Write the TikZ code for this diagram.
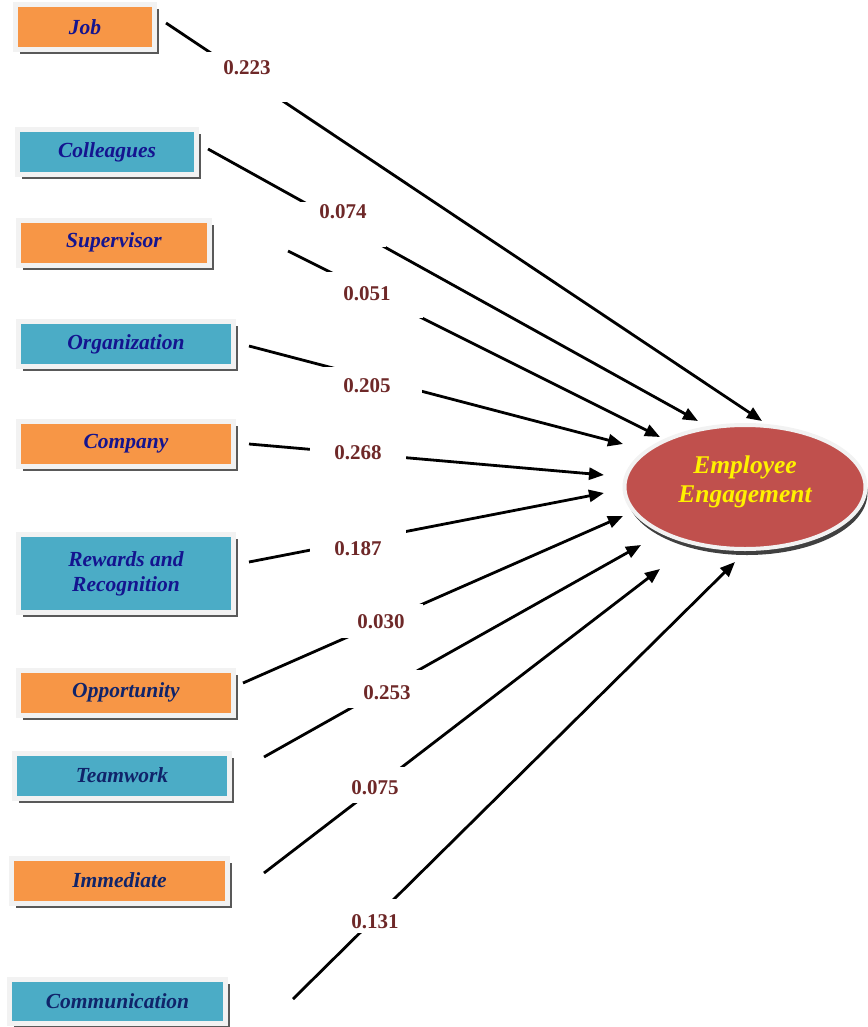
\documentclass[tikz,border=0pt]{standalone}
\usepackage{fontspec}
\setmainfont{Liberation Serif}
\usepackage{xcolor}
\usepackage{tikz}
\usetikzlibrary{calc}
\usetikzlibrary{arrows.meta}
\usetikzlibrary{shapes}
\usetikzlibrary{shapes.geometric}
\usetikzlibrary{shadows}
\definecolor{boxorange}{HTML}{F79646}
\definecolor{boxblue}{HTML}{4BACC6}
\definecolor{eered}{HTML}{C0504D}
\definecolor{rim}{HTML}{F2F2F2}
\definecolor{txtblue}{HTML}{14148F}
\definecolor{txtnavy}{HTML}{10246A}
\definecolor{coef}{HTML}{6E2828}
\tikzset{>={Triangle[length=15pt,width=12pt]}}
\tikzstyle{factor} = [rectangle, draw=rim, line width=5pt, minimum height=45pt, inner sep=0pt, align=center, font=\fontsize{21.5}{25}\selectfont\bfseries\itshape, general shadow={fill=black!65, shadow xshift=4.5pt, shadow yshift=-4.5pt}]
\tikzstyle{orangebox} = [factor, fill=boxorange]
\tikzstyle{bluebox} = [factor, fill=boxblue]
\tikzstyle{link} = [->, line width=2.8pt, draw=black]
\tikzstyle{est} = [anchor=base, fill=white, inner sep=0pt, text=coef, font=\fontsize{21}{25}\selectfont\bfseries]

\begin{document}
\begin{tikzpicture}[x=1pt, y=-1pt]
\useasboundingbox (0,0) rectangle (867,1027);
% factors
\node [orangebox, text=txtblue, minimum width=139pt] (job) at (85,27) {Job};
\node [bluebox, text=txtblue, minimum width=179pt] (col) at (107,152) {Colleagues};
\node [orangebox, text=txtblue, minimum width=191pt] (sup) at (114,242.5) {Supervisor};
\node [bluebox, text=txtblue, minimum width=215pt] (org) at (126,344) {Organization};
\node [orangebox, text=txtblue, minimum width=215pt] (com) at (126,443.5) {Company};
\node [bluebox, text=txtblue, minimum width=215pt, minimum height=78pt] (rew) at (126,573.5) {Rewards and\\Recognition};
\node [orangebox, text=txtnavy, minimum width=215pt] (opp) at (126,692.5) {Opportunity};
\node [bluebox, text=txtnavy, minimum width=215pt] (tea) at (122,775.5) {Teamwork};
\node [orangebox, text=txtnavy, minimum width=216pt] (imm) at (119.5,880.5) {Immediate};
\node [bluebox, text=txtnavy, minimum width=216pt, minimum height=44pt] (cmm) at (117.5,1001.5) {Communication};
% outcome
\node [ellipse, draw=rim, line width=4pt, fill=eered, minimum width=241pt, minimum height=124pt, align=center, text=yellow, font=\fontsize{25.5}{29}\selectfont\bfseries\itshape, general shadow={fill=black!75, shadow xshift=2pt, shadow yshift=-6pt}] (ee) at (745,487) {Employee\\Engagement\rule[-16pt]{0pt}{0pt}};
% arrow tips
\coordinate (tjob) at (762,421);
\coordinate (tcol) at (698,421);
\coordinate (tsup) at (660,437);
\coordinate (torg) at (623,444);
\coordinate (tcom) at (604,475);
\coordinate (trew) at (604,493);
\coordinate (topp) at (623,516);
\coordinate (ttea) at (641,545);
\coordinate (timm) at (660,569);
\coordinate (tcmm) at (735,562);
\draw [link] ($(job.east)+(9,-4)$) -- (tjob);
\draw [link] ($(col.east)+(9,-3)$) -- (tcol);
\draw [link] ($(sup.east)+(76,8.5)$) -- (tsup);
\draw [link] ($(org.east)+(13,2)$) -- (torg);
\draw [link] ($(com.east)+(13,0.5)$) -- (tcom);
\draw [link] ($(rew.east)+(13,-11.5)$) -- (trew);
\draw [link] ($(opp.east)+(7,-9.5)$) -- (topp);
\draw [link] ($(tea.east)+(32,-18.5)$) -- (ttea);
\draw [link] ($(imm.east)+(34,-7.5)$) -- (timm);
\draw [link] ($(cmm.east)+(65,-2.5)$) -- (tcmm);
% coefficients
\node [est, minimum width=80pt, text height=23pt, text depth=27pt] (c1) at (247,75) {0.223};
\node [est, minimum width=86pt, text height=16pt, text depth=29pt] (c2) at (343,218) {0.074};
\node [est, minimum width=112pt, text height=28pt, text depth=18pt] (c3) at (367,300) {0.051};
\node [est, minimum width=110pt, text height=25pt, text depth=3pt] (c4) at (367,392) {0.205};
\node [est, minimum width=96pt, text height=14pt, text depth=4pt] (c5) at (358,459) {0.268};
\node [est, minimum width=96pt, text height=26pt, text depth=2pt] (c6) at (358,555) {0.187};
\node [est, minimum width=84pt, text height=24pt, text depth=10pt] (c7) at (381,628) {0.030};
\node [est, minimum width=80pt, text height=29pt, text depth=9pt] (c8) at (387,699) {0.253};
\node [est, minimum width=64pt, text height=27pt, text depth=9pt] (c9) at (375,794) {0.075};
\node [est, minimum width=56pt, text height=29pt, text depth=5pt] (c10) at (375,928) {0.131};
\end{tikzpicture}
\end{document}
